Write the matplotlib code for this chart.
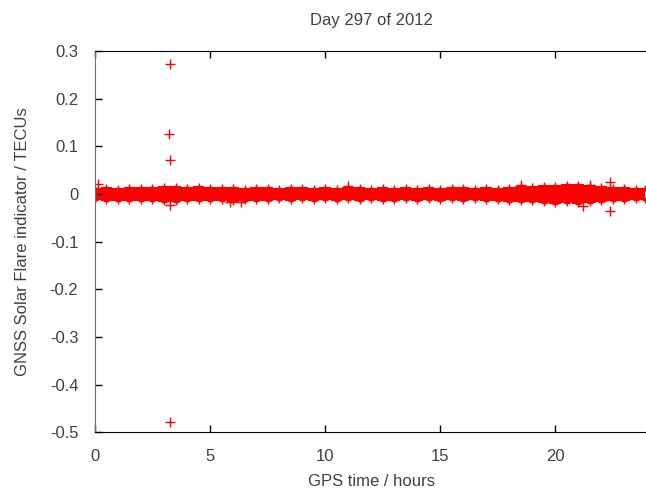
import numpy as np
import matplotlib.pyplot as plt

# envelope of the dense band of indicator values, read every half hour (TECU)
hours = [0, 0.5, 1, 1.5, 2, 2.5, 3, 3.5, 4, 4.5, 5, 5.5, 6, 6.5, 7, 7.5,
         8, 8.5, 9, 9.5, 10, 10.5, 11, 11.5, 12, 12.5, 13, 13.5, 14, 14.5,
         15, 15.5, 16, 16.5, 17, 17.5, 18, 18.5, 19, 19.5, 20, 20.5, 21,
         21.5, 22, 22.5, 23, 23.5, 23.9]
upper = [0.013, 0.014, 0.013, 0.015, 0.014, 0.015, 0.016, 0.017, 0.015,
         0.016, 0.014, 0.015, 0.014, 0.013, 0.015, 0.014, 0.013, 0.014,
         0.015, 0.013, 0.014, 0.013, 0.015, 0.014, 0.013, 0.014, 0.013,
         0.014, 0.013, 0.014, 0.013, 0.015, 0.014, 0.013, 0.014, 0.013,
         0.015, 0.016, 0.017, 0.018, 0.019, 0.02, 0.02, 0.019, 0.017,
         0.015, 0.014, 0.013, 0.013]
lower = [-0.013, -0.014, -0.015, -0.014, -0.015, -0.014, -0.016, -0.017,
         -0.015, -0.014, -0.015, -0.014, -0.016, -0.014, -0.015, -0.014,
         -0.013, -0.014, -0.013, -0.014, -0.013, -0.014, -0.013, -0.014,
         -0.013, -0.014, -0.015, -0.013, -0.014, -0.013, -0.014, -0.013,
         -0.014, -0.013, -0.014, -0.015, -0.016, -0.017, -0.018, -0.019,
         -0.021, -0.02, -0.021, -0.019, -0.017, -0.015, -0.014, -0.013,
         -0.013]

# individual points standing out of the band
out_t = [0.13, 0.05, 3.25, 3.22, 3.25, 3.28, 3.25, 5.86, 6.36, 11.0,
         18.5, 21.2, 21.5, 22.4, 22.4]
out_v = [0.021, -0.004, 0.273, 0.125, 0.072, -0.479, -0.023, -0.018,
         -0.017, 0.016, 0.018, -0.025, 0.019, 0.024, -0.035]

plt.rcParams['font.family'] = ['Liberation Sans', 'DejaVu Sans']
plt.rcParams['font.size'] = 12

fig = plt.figure(figsize=(6.46, 4.90), dpi=100)
ax = fig.add_axes([0.147, 0.118, 0.855, 0.778])

red = '#ff0000'
ax.fill_between(hours, lower, upper, color=red, lw=0, step='mid')
ax.plot(hours, upper, '+', color=red, ms=5, mew=1)
ax.plot(hours, lower, '+', color=red, ms=5, mew=1)
ax.plot(out_t, out_v, '+', color=red, ms=7, mew=1)

ax.set_xlim(0, 24)
ax.set_ylim(-0.5, 0.3)
ax.set_xticks([0, 5, 10, 15, 20])
ax.set_yticks(np.round(np.arange(-0.5, 0.31, 0.1), 1))
ax.set_yticklabels(['-0.5', '-0.4', '-0.3', '-0.2', '-0.1', '0',
                    '0.1', '0.2', '0.3'])
ax.tick_params(direction='in', length=5, width=1, top=True, right=False,
               colors='#000000', labelcolor='#404040', pad=12)
ax.spines['right'].set_visible(False)
ax.spines['left'].set_color('#707070')

ax.set_title('Day 297 of 2012', color='#404040', fontsize=12, pad=19)
ax.set_xlabel('GPS time / hours', color='#404040', labelpad=7)
ax.set_ylabel('GNSS Solar Flare indicator / TECUs', color='#404040',
              labelpad=14)

fig.savefig('out.png', dpi=100)
